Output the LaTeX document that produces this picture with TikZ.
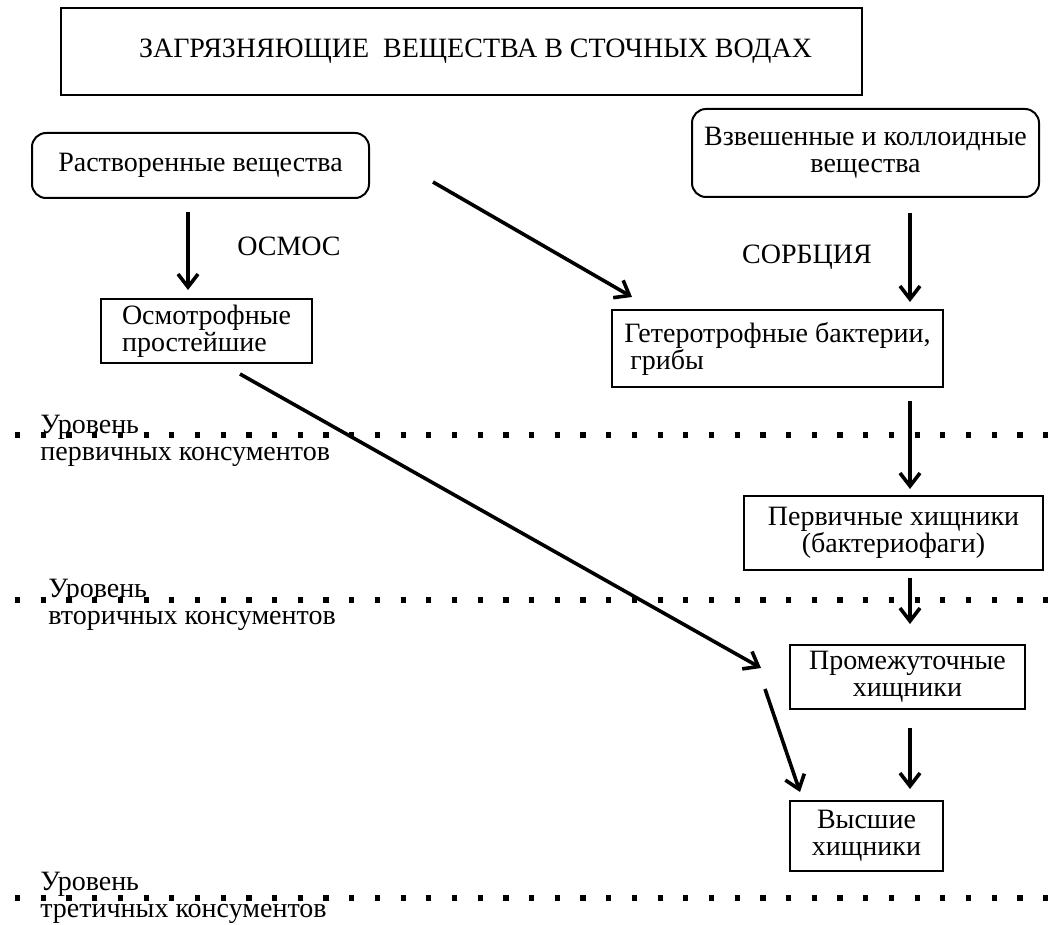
\documentclass[tikz,border=0pt]{standalone}
\usepackage{fontspec}
\setmainfont{Liberation Serif}
\usetikzlibrary{arrows.meta, calc}

\begin{document}
\begin{tikzpicture}[x=0.5pt, y=-0.5pt, >={Straight Barb[length=6.5pt,width=10pt]},
    every node/.style={font=\fontsize{14}{13.5}\selectfont},
    box/.style={draw, line width=1pt, inner sep=0pt},
    rbox/.style={box, rounded corners=7pt},
    link/.style={->, line width=1.8pt},
    level/.style={line width=2.6pt, dash pattern=on 2.6pt off 10.25pt},
    lvl/.style={anchor=west, align=left, inner sep=0pt}]

    \useasboundingbox (0,0) rectangle (1061,925);

    % Define the boxes (nodes)
    \node[box, minimum width=400.5pt, minimum height=43.5pt] (title) at (461.5,51.5) {\hspace*{14pt}ЗАГРЯЗНЯЮЩИЕ\ \ ВЕЩЕСТВА В СТОЧНЫХ ВОДАХ};
    \node[rbox, minimum width=168.5pt, minimum height=32.5pt] (rast) at (200.5,165.5) {Растворенные вещества}; % dissolved
    \node[rbox, minimum width=173.5pt, minimum height=44pt, align=center] (vzv) at (865.5,153) {Взвешенные и коллоидные\\вещества}; % suspended
    \node[box, minimum width=105.5pt, minimum height=32pt, align=left] (osmo) at (206.5,331) {Осмотрофные\\простейшие};
    \node[box, minimum width=165.5pt, minimum height=38.5pt, align=left] (het) at (777.5,348.5) {Гетеротрофные бактерии,\\\hspace*{3pt}грибы};
    \node[box, minimum width=149.5pt, minimum height=37pt, align=center] (prim) at (893.5,533) {Первичные хищники\\(бактериофаги)};
    \node[box, minimum width=117.5pt, minimum height=32pt, align=center] (prom) at (907.5,677) {Промежуточные\\хищники};
    \node[box, minimum width=76.5pt, minimum height=35pt, align=center] (vys) at (866.5,836) {Высшие\\хищники};

    % Process labels
    \node (osmos) at (289,246) {ОСМОС};
    \node (sorb) at (807,257) {СОРБЦИЯ};

    % Consumer levels
    \draw[level] (15,435) -- (1061,435);
    \draw[level] (15,600) -- (1061,600);
    \draw[level] (15,898) -- (1061,898);
    \node[lvl] (lev1) at (40,441) {Уровень\\первичных консументов};
    \node[lvl] (lev2) at (48,605) {Уровень\\вторичных консументов};
    \node[lvl] (lev3) at (40,898) {Уровень\\третичных консументов};

    % Define the transitions (arrows)
    \draw[link] ($(rast.south)+(-12.5,13)$) -- ($(osmo.north)+(-18.5,-8)$); % osmosis
    \draw[link] ($(rast.east)+(63,16.5)$) -- ($(het.north west)+(21,-12)$);
    \draw[link] ($(vzv.south)+(44.5,15)$) -- ($(het.north)+(132.5,-7)$); % sorption
    \draw[link] ($(osmo.south)+(33.5,10)$) -- ($(prom.west)+(-28,-9)$);
    \draw[link] ($(het.south)+(132.5,13)$) -- ($(prim.north)+(16.5,-6)$);
    \draw[link] ($(prim.south)+(16.5,7)$) -- ($(prom.north)+(2.5,-20)$);
    \draw[link] ($(prom.south)+(2.5,18)$) -- ($(vys.north)+(43.5,-11)$);
    \draw[link] ($(prom.south west)+(-24,-21)$) -- ($(vys.north west)+(11,-8)$);
\end{tikzpicture}
\end{document}
